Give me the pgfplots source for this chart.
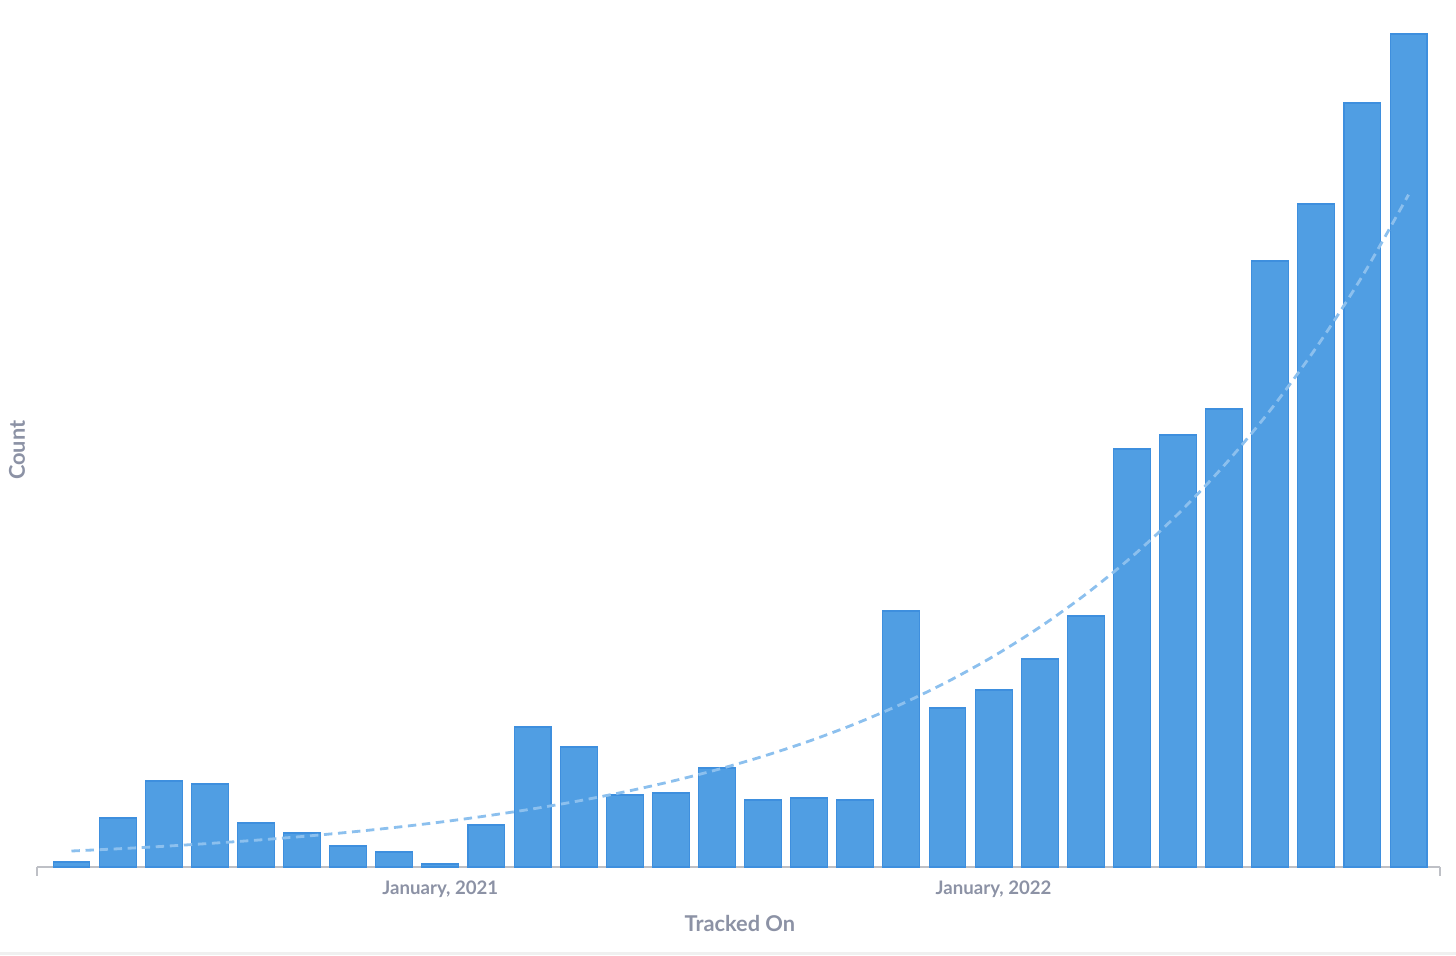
\documentclass[border=0pt]{standalone}
\usepackage{pgfplots}
\pgfplotsset{compat=1.18}
\usepackage{fontspec}
\setmainfont{Lato}
\definecolor{barblue}{RGB}{80,158,227}
\definecolor{baredge}{RGB}{62,143,222}
\definecolor{trendblue}{RGB}{140,192,238}
\definecolor{txtgray}{RGB}{140,146,165}
\definecolor{axgray}{RGB}{190,192,198}
\begin{document}
\begin{tikzpicture}
\path[use as bounding box] (-3.7mm,-8.8mm) rectangle (141.9mm,86.7mm);
\fill[black!6] (-3.7mm,-8.8mm) rectangle (141.9mm,-8.5mm);
\begin{axis}[
  at={(0,0)}, anchor=south west,
  scale only axis,
  width=140.3mm, height=83.7mm,
  xmin=-0.748, xmax=29.683,
  ymin=0, ymax=837,
  axis x line*=bottom,
  axis y line*=left,
  x axis line style={axgray, line width=0.55pt, -},
  y axis line style={draw=none, -},
  xtick={8,20},
  xticklabels={{January, 2021},{January, 2022}},
  major tick length=0pt,
  ytick=\empty,
  x tick label style={font=\bfseries\fontsize{5.3}{6}\selectfont, text=txtgray, anchor=north, yshift=-0.15mm},
  xlabel={Tracked On},
  ylabel={Count},
  xlabel style={at={(axis description cs:0.501,0)}, anchor=center, yshift=-5.6mm, font=\bfseries\fontsize{6.2}{7}\selectfont, text=txtgray},
  ylabel style={at={(axis description cs:0,0.498)}, anchor=center, yshift=2mm, font=\bfseries\fontsize{6.2}{7}\selectfont, text=txtgray},
  clip=false,
]
\addplot[ybar, bar width=0.8, fill=barblue, draw=baredge, line width=0.3pt] coordinates {
(0,5) (1,49) (2,86) (3,83) (4,44) (5,34) (6,21) (7,15) (8,3) (9,42)
(10,140) (11,120) (12,72) (13,74) (14,99) (15,67) (16,69) (17,67) (18,256) (19,159)
(20,177) (21,208) (22,251) (23,418) (24,432) (25,458) (26,606) (27,663) (28,764) (29,833)
};
\addplot[trendblue, line width=0.8pt, dash pattern=on 2.4pt off 1.6pt, smooth] coordinates {
(0,16) (1,18.2) (2,20.7) (3,23.6) (4,26.8) (5,30.5) (6,34.7) (7,39.5) (8,44.9) (9,51.1)
(10,58.1) (11,66.1) (12,75.2) (13,85.5) (14,97.3) (15,110.7) (16,125.9) (17,143.2) (18,162.9) (19,185.3)
(20,210.8) (21,239.8) (22,272.8) (23,310.3) (24,353.0) (25,401.5) (26,456.7) (27,519.6) (28,591.0) (29,672.3)
};
\draw[axgray, line width=0.55pt] (rel axis cs:0,0) -- ([yshift=-0.9mm]rel axis cs:0,0);
\draw[axgray, line width=0.55pt] (rel axis cs:1,0) -- ([yshift=-0.9mm]rel axis cs:1,0);
\end{axis}
\end{tikzpicture}
\end{document}
